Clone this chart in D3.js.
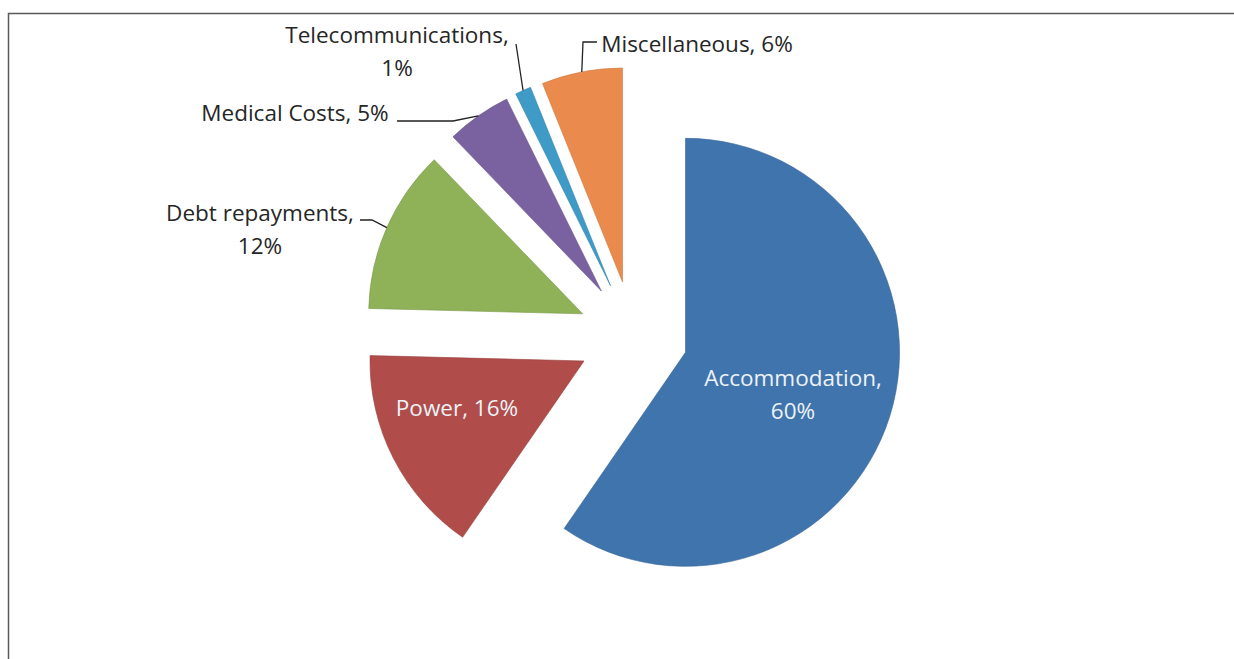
<!DOCTYPE html>
<html>
<head>
<meta charset="utf-8">
<script src="https://cdn.jsdelivr.net/npm/d3@7"></script>
<style>
  body { margin: 0; background: #fff; overflow: hidden; }
  text { font-family: "Open Sans", "Noto Sans", sans-serif; }
</style>
</head>
<body>
<div id="chart"></div>
<script>
// data (shares in %, labels show rounded values)
var categories = ["Accommodation", "Power", "Debt repayments", "Medical Costs", "Telecommunications", "Miscellaneous"];
var shares = [59.6, 15.8, 12.4, 4.9, 1.2, 6.1];
var sliceColors = ["#3f74ad", "#b04c4a", "#8fb157", "#79629f", "#3e9ac6", "#ea8a4c"];
var wrapAfterComma = [true, false, true, false, true, false];

var width = 1234, height = 659;
var cx = 633, cy = 336, radius = 214, explode = 55;

// label layout (where Excel put each label), not data
var labelLayout = {
  "Accommodation":      { x: 793, y: 386, anchor: "middle", inside: true },
  "Power":              { x: 457, y: 416, anchor: "middle", inside: true },
  "Debt repayments":    { x: 260, y: 221, anchor: "middle", leader: [[360, 220], [372, 220]] },
  "Medical Costs":      { x: 295, y: 121, anchor: "middle", leader: [[397, 121], [453, 121]] },
  "Telecommunications": { x: 397, y: 43,  anchor: "middle", leader: [[516, 44]] },
  "Miscellaneous":      { x: 697, y: 52,  anchor: "middle", leader: [[597, 42], [583, 42]] }
};

var data = categories.map(function(c, i) {
  return { name: c, value: shares[i], color: sliceColors[i], wrap: wrapAfterComma[i] };
});
var total = d3.sum(shares);
var pct = d3.format(".0%");

var svg = d3.select("#chart")
  .append("svg")
  .attr("width", width)
  .attr("height", height)
  .style("display", "block");

// chart frame
svg.append("rect")
  .attr("x", 8.5).attr("y", 13.5)
  .attr("width", 1400).attr("height", 800)
  .attr("fill", "none")
  .attr("stroke", "#5a5a5a")
  .attr("stroke-width", 1.5);

var pie = d3.pie().sort(null).value(function(d) { return d.value; });
var arcs = pie(data);

var arc = d3.arc().innerRadius(0).outerRadius(radius);
var edgeArc = d3.arc().innerRadius(radius).outerRadius(radius);

function offset(d) {
  var a = (d.startAngle + d.endAngle) / 2;
  return [explode * Math.sin(a), -explode * Math.cos(a)];
}

var g = svg.append("g").attr("transform", "translate(" + cx + "," + cy + ")");

g.selectAll("path.slice")
  .data(arcs)
  .enter()
  .append("path")
    .attr("class", "slice")
    .attr("transform", function(d) { var o = offset(d); return "translate(" + o[0] + "," + o[1] + ")"; })
    .attr("d", arc)
    .attr("fill", function(d) { return d.data.color; })
    .attr("stroke", function(d) { return d3.color(d.data.color).darker(0.4); })
    .attr("stroke-width", 0.6);

// leader lines: from label elbow to the middle of the slice's outer edge
arcs.forEach(function(d) {
  var lay = labelLayout[d.data.name];
  if (!lay.leader) return;
  var o = offset(d);
  var c = edgeArc.centroid(d);
  var end = [cx + o[0] + c[0], cy + o[1] + c[1]];
  var pts = lay.leader.concat([end]);
  svg.append("path")
    .attr("d", d3.line()(pts))
    .attr("fill", "none")
    .attr("stroke", "#222")
    .attr("stroke-width", 1.3);
});

// labels
arcs.forEach(function(d) {
  var lay = labelLayout[d.data.name];
  var p = pct(d.data.value / total);
  var lines = d.data.wrap ? [d.data.name + ",", p] : [d.data.name + ", " + p];
  var t = svg.append("text")
    .attr("x", lay.x).attr("y", lay.y)
    .attr("text-anchor", lay.anchor)
    .attr("font-size", 22.5)
    .attr("fill", lay.inside ? "#eef2f7" : "#262626");
  lines.forEach(function(l, i) {
    t.append("tspan").attr("x", lay.x).attr("dy", i === 0 ? 0 : 33).text(l);
  });
});
</script>
</body>
</html>
